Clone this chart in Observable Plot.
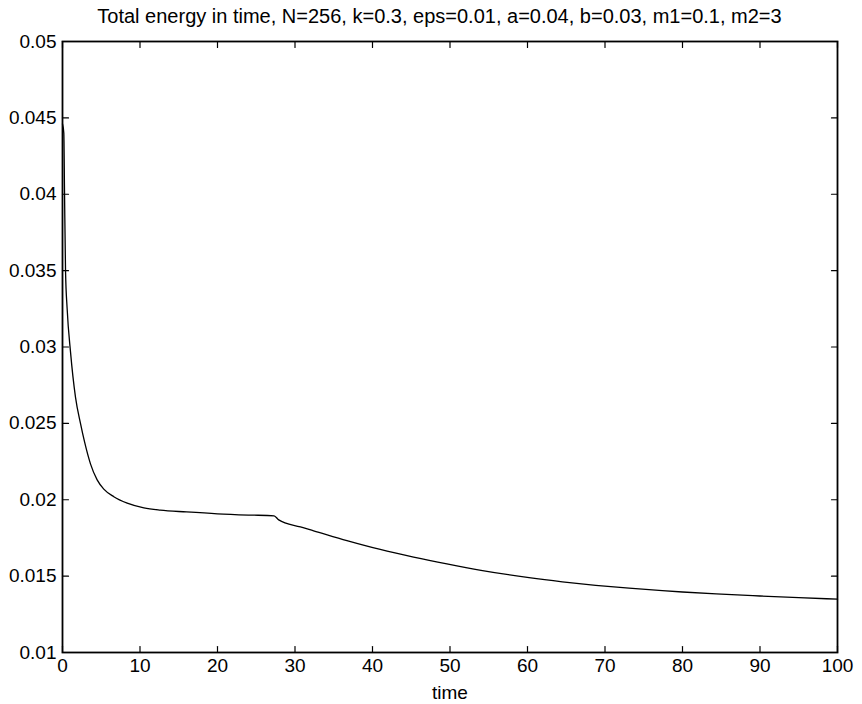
<!DOCTYPE html>
<html>
<head>
<meta charset="utf-8">
<script src="https://cdn.jsdelivr.net/npm/d3@7"></script>
<script src="https://cdn.jsdelivr.net/npm/@observablehq/plot@0.6"></script>
<style>
  html, body { margin: 0; padding: 0; background: #fff; }
  body { width: 862px; height: 704px; overflow: hidden; font-family: "Liberation Sans", Arial, sans-serif; }
  #title { height: 30px; line-height: 32px; font-size: 20px; text-align: center; padding-left: 52px; padding-right: 35px; color: #000; white-space: nowrap; }
  svg { display: block; }
</style>
</head>
<body>
<div id="title">Total energy in time, N=256, k=0.3, eps=0.01, a=0.04, b=0.03, m1=0.1, m2=3</div>
<div id="chart"></div>
<script>
const time = [0, 0.17, 0.26, 0.39, 0.6, 1.03, 1.68, 2.32, 2.84, 3.61, 4.47, 5.33, 6.62, 8.35, 10.5, 12.6, 16, 20, 24, 27.3, 27.9, 30.7, 32.4, 36.7, 41, 45.3, 49.6, 54, 60.2, 64.5, 68.8, 73.1, 77.4, 80, 85, 90, 95, 100];
const energy = [0.0446, 0.0440, 0.0402, 0.0350, 0.0325, 0.0297, 0.0267, 0.0250, 0.0238, 0.02235, 0.0213, 0.0207, 0.0202, 0.01978, 0.01947, 0.01932, 0.0192, 0.01908, 0.01900, 0.01895, 0.01868, 0.01822, 0.01797, 0.01733, 0.01675, 0.01625, 0.0158, 0.01538, 0.0149, 0.01463, 0.0144, 0.01421, 0.01405, 0.01396, 0.01382, 0.0137, 0.01359, 0.01349];
const xTicks = [0, 10, 20, 30, 40, 50, 60, 70, 80, 90, 100];
const yTicks = [0.01, 0.015, 0.02, 0.025, 0.03, 0.035, 0.04, 0.045, 0.05];

const data = time.map((t, i) => ({t, e: energy[i]}));

const tickShape = {draw(context, l) { context.moveTo(0, 0); context.lineTo(0, -l); }};
const tickOpts = {length: 6, anchor: "start", shape: tickShape, stroke: "#000", strokeWidth: 1.2};

const chart = Plot.plot({
  width: 862,
  height: 674,
  marginLeft: 62,
  marginRight: 25,
  marginTop: 11,
  marginBottom: 52,
  style: {fontFamily: "'Liberation Sans', Arial, sans-serif", fontSize: "19px", color: "#000", background: "#fff"},
  x: {domain: [0, 100]},
  y: {domain: [0.01, 0.05]},
  marks: [
    Plot.line(data, {x: "t", y: "e", stroke: "#000", strokeWidth: 1.3, curve: "monotone-x"}),
    Plot.axisX(xTicks, {anchor: "bottom", tickSize: 0, tickPadding: 6, tickFormat: d => String(d), label: "time", labelAnchor: "center", labelArrow: "none", labelOffset: 46, fill: "#000"}),
    Plot.axisY(yTicks, {anchor: "left", tickSize: 0, tickPadding: 6, tickFormat: d => String(d), label: null, fill: "#000"}),
    Plot.vector(xTicks, {x: d => d, frameAnchor: "bottom", rotate: 0, ...tickOpts}),
    Plot.vector(xTicks, {x: d => d, frameAnchor: "top", rotate: 180, ...tickOpts}),
    Plot.vector(yTicks, {y: d => d, frameAnchor: "left", rotate: 90, ...tickOpts}),
    Plot.vector(yTicks, {y: d => d, frameAnchor: "right", rotate: -90, ...tickOpts}),
    Plot.frame({stroke: "#000", strokeWidth: 1.8})
  ]
});
document.getElementById("chart").appendChild(chart);
</script>
</body>
</html>
